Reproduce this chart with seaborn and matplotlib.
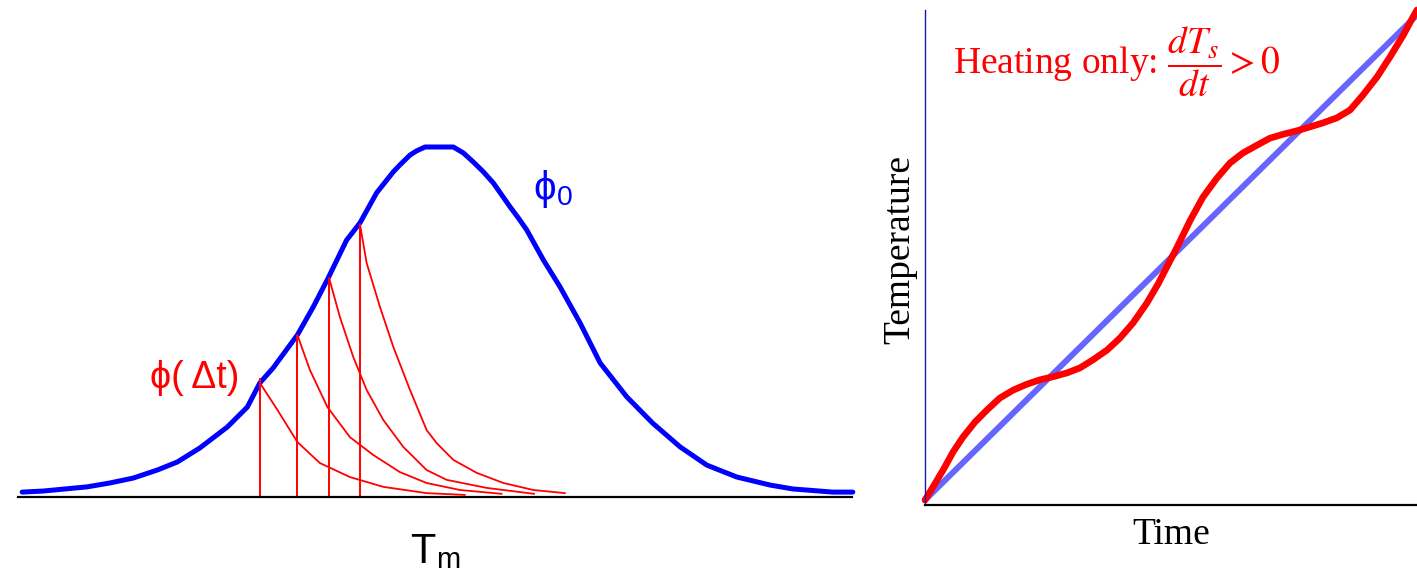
import matplotlib
matplotlib.use("Agg")
import matplotlib.pyplot as plt
import seaborn as sns

# --- data (arbitrary units) ---
# left panel: phi_0 distribution over T_m (T in 0..100, phi in 0..1)
phi0_T = [0.5, 3.0, 8.3, 11.0, 13.8, 16.7, 19.1, 21.8, 25.1, 27.5, 29.0, 30.6,
          33.5, 35.4, 37.2, 39.4, 41.0, 43.0, 45.0, 45.8, 47.0, 47.8, 48.8,
          52.2, 53.4, 54.6, 55.8, 57.0, 58.0, 59.0, 60.0, 61.0, 63.0, 65.0,
          67.4, 69.8, 73.0, 76.1, 79.4, 82.6, 86.2, 90.2, 92.9, 97.7, 100.1]
phi0_val = [0.014, 0.017, 0.029, 0.040, 0.054, 0.077, 0.100, 0.140, 0.200,
            0.257, 0.326, 0.369, 0.463, 0.543, 0.626, 0.734, 0.783, 0.869,
            0.929, 0.949, 0.977, 0.989, 1.000, 1.000, 0.983, 0.957, 0.929,
            0.897, 0.863, 0.829, 0.797, 0.763, 0.677, 0.600, 0.497, 0.383,
            0.286, 0.211, 0.143, 0.091, 0.057, 0.034, 0.023, 0.014, 0.014]

# phi(dt) decay curves, one per selected T
cut_T = [29.0, 33.5, 37.3, 41.0]
cut_top = [0.34, 0.463, 0.626, 0.780]
decay_T = [
    [29.0, 31.1, 33.5, 36.2, 39.8, 43.8, 49.0, 53.6],
    [33.5, 35.0, 37.1, 39.8, 42.6, 45.8, 49.0, 53.0, 58.0],
    [37.3, 38.6, 40.2, 41.8, 43.8, 46.2, 49.0, 51.4, 56.2, 61.9],
    [41.0, 41.8, 43.4, 45.0, 47.0, 49.0, 50.2, 52.2, 55.0, 58.2, 61.8, 65.6],
]
decay_val = [
    [0.326, 0.249, 0.157, 0.097, 0.057, 0.029, 0.011, 0.006],
    [0.463, 0.363, 0.257, 0.171, 0.120, 0.071, 0.040, 0.020, 0.009],
    [0.626, 0.514, 0.400, 0.306, 0.220, 0.143, 0.077, 0.049, 0.026, 0.009],
    [0.780, 0.669, 0.543, 0.429, 0.306, 0.191, 0.154, 0.106, 0.069, 0.040,
     0.020, 0.011],
]

# right panel: temperature vs time (normalised)
ramp_time = [0.0, 1.0]
ramp_temp = [0.01, 0.99]
sample_time = [0.0, 0.016, 0.037, 0.057, 0.077, 0.102, 0.126, 0.152, 0.179,
               0.207, 0.234, 0.260, 0.289, 0.315, 0.341, 0.370, 0.396, 0.423,
               0.451, 0.474, 0.490, 0.512, 0.539, 0.565, 0.593, 0.620, 0.646,
               0.675, 0.701, 0.728, 0.756, 0.783, 0.809, 0.837, 0.864, 0.890,
               0.919, 0.945, 0.972, 0.992, 1.0]
sample_temp = [0.010, 0.036, 0.071, 0.107, 0.137, 0.168, 0.192, 0.216, 0.232,
               0.244, 0.253, 0.259, 0.267, 0.277, 0.293, 0.313, 0.337, 0.368,
               0.408, 0.447, 0.478, 0.520, 0.575, 0.622, 0.660, 0.691, 0.711,
               0.727, 0.741, 0.749, 0.756, 0.764, 0.772, 0.782, 0.798, 0.828,
               0.865, 0.905, 0.949, 0.986, 1.0]

# --- style ---
sns.set_theme(style="white")
plt.rcParams["font.family"] = ["Liberation Sans", "DejaVu Sans"]
plt.rcParams["mathtext.fontset"] = "stix"

fig = plt.figure(figsize=(14.17, 5.78), dpi=100)
W, H = 1417, 578

# left panel
ax1 = fig.add_axes([18 / W, (H - 497) / H, 834 / W, 370 / H])
sns.lineplot(x=phi0_T, y=phi0_val, ax=ax1, color="#0000ff", linewidth=3.6,
             clip_on=False)
for xs, ys in zip(decay_T, decay_val):
    sns.lineplot(x=xs, y=ys, ax=ax1, color="#ff0000", linewidth=1.3)
ax1.vlines(cut_T, 0, cut_top, color="#ff0000", linewidth=1.4)
ax1.set_xlim(0, 100)
ax1.set_ylim(0, 370 / 350)
ax1.set_xticks([])
ax1.set_yticks([])
for s in ["top", "right", "left"]:
    ax1.spines[s].set_visible(False)
ax1.spines["bottom"].set_color("black")
ax1.spines["bottom"].set_linewidth(1.6)
ax1.set_xlabel(r"T$_\mathregular{m}$", fontsize=30, color="black", va="baseline")
ax1.xaxis.set_label_coords(0.5, -0.178)
ax1.text(15.8, 0.311, "\u03d5(\u2009\u0394t)", color="#ff0000",
         fontsize=27, va="baseline")
ax1.text(61.8, 0.849, "\u03d5" + r"$_\mathregular{0}$", color="#0000ff",
         fontsize=29, va="baseline")

# right panel
ax2 = fig.add_axes([925 / W, (H - 505) / H, 492 / W, 495 / H])
sns.lineplot(x=ramp_time, y=ramp_temp, ax=ax2, color="#6666ff", linewidth=4.3,
             clip_on=False)
sns.lineplot(x=sample_time, y=sample_temp, ax=ax2, color="#ff0000",
             linewidth=4.8, clip_on=False)
ax2.set_xlim(0, 1)
ax2.set_ylim(0, 1)
ax2.set_xticks([])
ax2.set_yticks([])
ax2.spines["top"].set_visible(False)
ax2.spines["right"].set_visible(False)
ax2.spines["left"].set_color("#1a1aa0")
ax2.spines["left"].set_linewidth(1.0)
ax2.spines["bottom"].set_color("black")
ax2.spines["bottom"].set_linewidth(1.6)
serif = ["Liberation Serif", "DejaVu Serif"]
ax2.set_xlabel("Time", family=serif, fontsize=27, color="black", va="baseline")
ax2.xaxis.set_label_coords(0.5, -0.079)
ax2.set_ylabel("Temperature", family=serif, fontsize=27, color="black",
               va="center")
ax2.yaxis.set_label_coords(-0.051, 0.517)
ax2.text(0.057, 0.871, r"Heating only: $\dfrac{dT_s}{dt} > 0$", family=serif,
         fontsize=27, color="#ff0000", va="baseline", transform=ax2.transAxes)

fig.savefig("out.png", dpi=100)
